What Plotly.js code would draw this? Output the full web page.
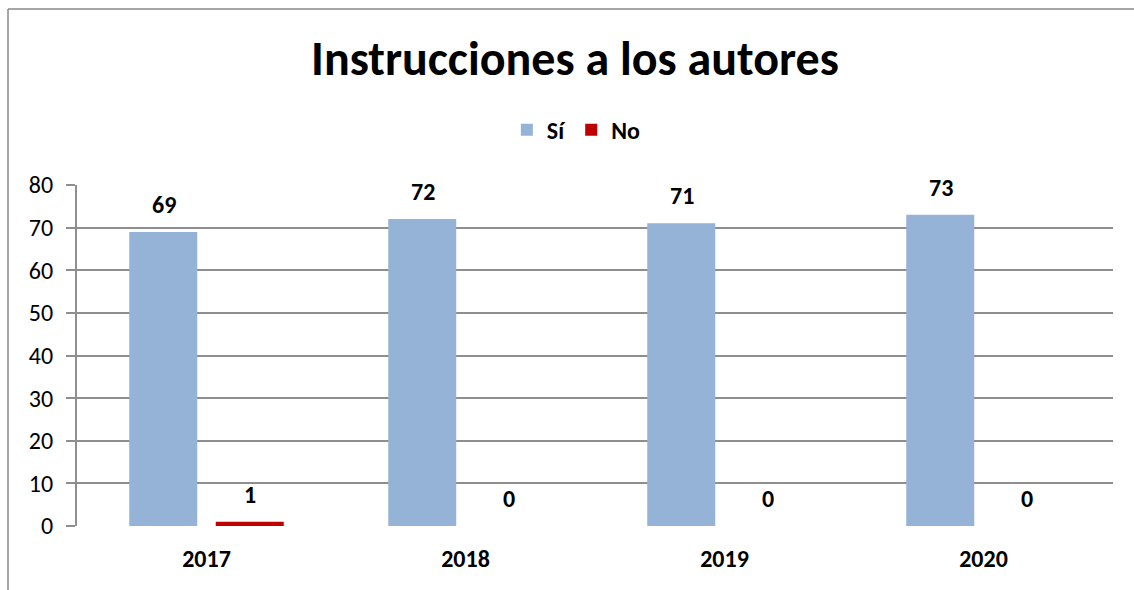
<!DOCTYPE html>
<html>
<head>
<meta charset="utf-8">
<script src="https://cdn.plot.ly/plotly-3.0.1.min.js"></script>
<style>html,body{margin:0;padding:0;background:#fff;}#chart{width:1134px;height:590px;}</style>
</head>
<body>
<div id="chart"></div>
<script>
const years = ['2017', '2018', '2019', '2020'];
const si = [69, 72, 71, 73];
const no = [1, 0, 0, 0];
const seriesNames = ['Sí', 'No'];
const yTicks = [0, 10, 20, 30, 40, 50, 60, 70, 80];

const FONT = 'Carlito, Calibri, "Open Sans", "Liberation Sans", sans-serif';

const traces = [
  {type: 'bar', name: seriesNames[0], x: years, y: si, marker: {color: '#95B3D7'}, hoverinfo: 'none'},
  {type: 'bar', name: seriesNames[1], x: years, y: no, marker: {color: '#C00000'}, hoverinfo: 'none'}
];

const annotations = [];
years.forEach((yr, i) => {
  annotations.push({x: i, y: si[i], xref: 'x', yref: 'y', text: String(si[i]), showarrow: false,
    xshift: -43, yshift: 11, yanchor: 'bottom', font: {family: FONT, size: 24, color: '#000', weight: 'bold'}});
  annotations.push({x: i, y: no[i], xref: 'x', yref: 'y', text: String(no[i]), showarrow: false,
    xshift: 43, yshift: 11, yanchor: 'bottom', font: {family: FONT, size: 24, color: '#000', weight: 'bold'}});
});

const layout = {
  width: 1134, height: 590,
  margin: {l: 77, r: 21, t: 185, b: 64, autoexpand: false},
  paper_bgcolor: '#fff', plot_bgcolor: '#fff',
  barmode: 'group', bargap: 0.332, bargroupgap: 0.214,
  title: {text: '<b>Instrucciones a los autores</b>', font: {family: FONT, size: 48, color: '#000'},
    x: 0.507, xanchor: 'center', y: 0.902, yanchor: 'middle'},
  showlegend: true,
  legend: {orientation: 'h', x: 0.482, xanchor: 'center', y: 1.161, yanchor: 'middle',
    font: {family: FONT, size: 24, color: '#000', weight: 'bold'}, traceorder: 'normal'},
  xaxis: {type: 'category', range: [-0.5, 3.5], showgrid: false, zeroline: false, showline: false, ticks: '',
    tickfont: {family: FONT, size: 24, color: '#000', weight: 'bold'}, ticklabelstandoff: 16},
  yaxis: {range: [0, 80], tickvals: yTicks, showgrid: true, gridcolor: '#8E8E8E', gridwidth: 2,
    zeroline: false, showline: true, linecolor: '#8E8E8E', linewidth: 2,
    ticks: 'outside', ticklen: 9, tickcolor: '#8E8E8E', tickwidth: 2,
    tickfont: {family: FONT, size: 24, color: '#000'}, ticklabelstandoff: 8},
  annotations: annotations,
  shapes: [
    {type: 'line', xref: 'paper', yref: 'paper', x0: -0.0666, x1: -0.0666, y0: -0.3, y1: 1.516,
      line: {color: '#888', width: 1.5}},
    {type: 'line', xref: 'paper', yref: 'paper', x0: -0.0666, x1: 1.05, y0: 1.516, y1: 1.516,
      line: {color: '#888', width: 1.5}}
  ]
};

Plotly.newPlot('chart', traces, layout, {displayModeBar: false, staticPlot: true});
</script>
</body>
</html>
